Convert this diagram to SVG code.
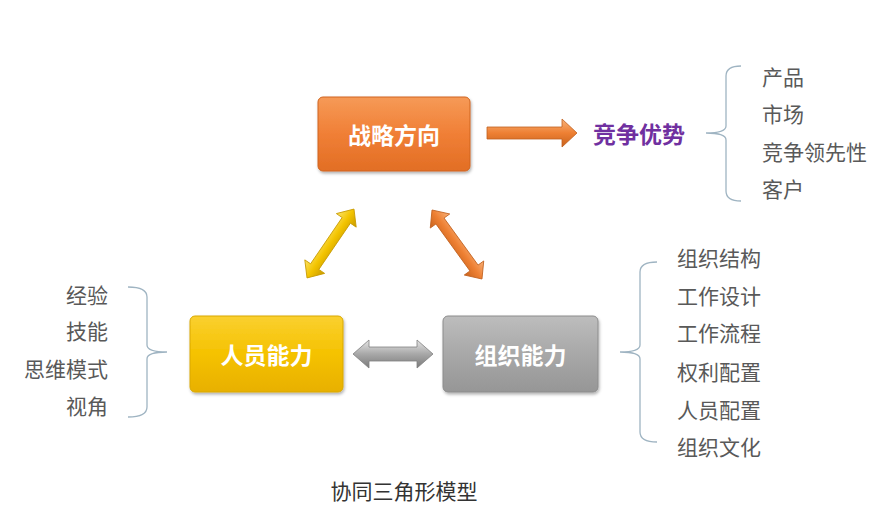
<svg xmlns="http://www.w3.org/2000/svg" width="881" height="512" viewBox="0 0 881 512">
<defs>
<linearGradient id="gOrange" x1="0" y1="0" x2="0" y2="1"><stop offset="0" stop-color="#F69A57"/><stop offset="0.5" stop-color="#F07F36"/><stop offset="1" stop-color="#E26E24"/></linearGradient>
<linearGradient id="gYellow" x1="0" y1="0" x2="0" y2="1"><stop offset="0" stop-color="#FAD030"/><stop offset="0.5" stop-color="#F5C200"/><stop offset="1" stop-color="#E8B000"/></linearGradient>
<linearGradient id="gGray" x1="0" y1="0" x2="0" y2="1"><stop offset="0" stop-color="#BDBDBD"/><stop offset="0.5" stop-color="#A8A8A8"/><stop offset="1" stop-color="#969696"/></linearGradient>
<linearGradient id="aOrange" x1="0" y1="0" x2="0" y2="1"><stop offset="0" stop-color="#F8B27A"/><stop offset="0.5" stop-color="#EE8033"/><stop offset="1" stop-color="#C8621C"/></linearGradient>
<linearGradient id="aYellow" x1="0" y1="0" x2="0" y2="1"><stop offset="0" stop-color="#FCE36A"/><stop offset="0.5" stop-color="#F3C400"/><stop offset="1" stop-color="#C89A00"/></linearGradient>
<linearGradient id="aGray" x1="0" y1="0" x2="0" y2="1"><stop offset="0" stop-color="#E6E6E6"/><stop offset="0.5" stop-color="#A8A8A8"/><stop offset="1" stop-color="#7A7A7A"/></linearGradient>
<filter id="sh" x="-10%" y="-10%" width="120%" height="130%"><feDropShadow dx="1" dy="2" stdDeviation="1.5" flood-color="#000" flood-opacity="0.3"/></filter>
</defs>
<style>
.bt{font-family:"Noto Sans CJK SC","Noto Sans",sans-serif;font-weight:bold;font-size:23px;fill:#fff;text-anchor:middle;dominant-baseline:central}
.lt{font-family:"Noto Sans CJK SC","Noto Sans",sans-serif;font-size:21px;fill:#595959;dominant-baseline:central}
.br{fill:none;stroke:#9FB4C2;stroke-width:1.3}
</style>
<g id="connectors">
<polygon points="487,127 562,127 562,119 577,133 562,147 562,139 487,139" fill="url(#aOrange)" stroke="#C0601E" stroke-width="0.8"/>
<g transform="translate(330.5,243.5) rotate(-55.7)"><polygon points="-41.7,0 -28,-12 -28,-5 28,-5 28,-12 41.7,0 28,12 28,5 -28,5 -28,12" fill="url(#aYellow)" stroke="#C89A00" stroke-width="0.8"/></g>
<g transform="translate(457,244.5) rotate(54.1)"><polygon points="-42.6,0 -29,-12 -29,-5 29,-5 29,-12 42.6,0 29,12 29,5 -29,5 -29,12" fill="url(#aOrange)" stroke="#C0601E" stroke-width="0.8"/></g>
<polygon points="353,354 369,340 369,347 417,347 417,340 433,354 417,368 417,361 369,361 369,368" fill="url(#aGray)" stroke="#808080" stroke-width="0.8"/>
</g>
<g id="node-strategy">
<rect x="318" y="97" width="152" height="74" rx="5" fill="url(#gOrange)" stroke="#D0641F" filter="url(#sh)"/>
<text class="bt" x="394" y="134">战略方向</text>
</g>
<g id="node-people">
<rect x="190" y="316" width="153" height="76" rx="5" fill="url(#gYellow)" stroke="#D9A800" filter="url(#sh)"/>
<text class="bt" x="266.5" y="354">人员能力</text>
</g>
<g id="node-org">
<rect x="443" y="316" width="155" height="76" rx="5" fill="url(#gGray)" stroke="#8C8C8C" filter="url(#sh)"/>
<text class="bt" x="520.5" y="354">组织能力</text>
</g>
<g id="node-advantage">
<text x="593" y="133" font-family="Noto Sans CJK SC,Noto Sans,sans-serif" font-weight="bold" font-size="23" fill="#7030A0" dominant-baseline="central">竞争优势</text>
</g>
<g id="brace-advantage">
<path class="br" d="M741,66 Q726,66 726,76 L726,126 Q726,133 706,133 Q726,133 726,140 L726,191 Q726,201 741,201"/>
<text class="lt" x="762" y="76">产品</text>
<text class="lt" x="762" y="113">市场</text>
<text class="lt" x="762" y="151">竞争领先性</text>
<text class="lt" x="762" y="188">客户</text>
</g>
<g id="brace-people">
<path class="br" d="M128,287 Q147,287 147,297 L147,345 Q147,352 167,352 Q147,352 147,359 L147,407 Q147,417 128,417"/>
<text class="lt" x="108" y="294" text-anchor="end">经验</text>
<text class="lt" x="108" y="330" text-anchor="end">技能</text>
<text class="lt" x="108" y="368" text-anchor="end">思维模式</text>
<text class="lt" x="108" y="405" text-anchor="end">视角</text>
</g>
<g id="brace-org">
<path class="br" d="M657,262 Q640,262 640,272 L640,345 Q640,352 620,352 Q640,352 640,359 L640,432 Q640,442 657,442"/>
<text class="lt" x="677" y="257">组织结构</text>
<text class="lt" x="677" y="295">工作设计</text>
<text class="lt" x="677" y="332">工作流程</text>
<text class="lt" x="677" y="371">权利配置</text>
<text class="lt" x="677" y="409">人员配置</text>
<text class="lt" x="677" y="446">组织文化</text>
</g>
<text x="404" y="490" font-family="Noto Sans CJK SC,Noto Sans,sans-serif" font-size="21" fill="#333" text-anchor="middle" dominant-baseline="central">协同三角形模型</text>
</svg>
